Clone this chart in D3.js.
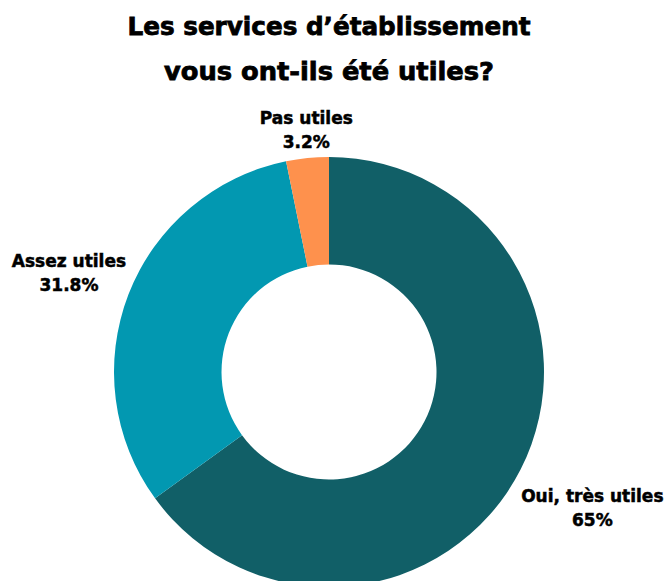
<!DOCTYPE html>
<html>
<head>
<meta charset="utf-8">
<script src="https://cdn.jsdelivr.net/npm/d3@7"></script>
<style>
  body { margin: 0; background: #fff; }
  svg { display: block; }
  text { font-family: "DejaVu Sans", "Noto Sans", sans-serif; font-weight: bold; fill: #000; stroke: #000; }
</style>
</head>
<body>
<svg id="chart"></svg>
<script>
var width = 667;
var height = 581;

// data
var titleLines = ["Les services d\u2019établissement", "vous ont-ils été utiles?"];
var categories = ["Oui, très utiles", "Assez utiles", "Pas utiles"];
var values = [65, 31.8, 3.2];
var valueLabels = ["65%", "31.8%", "3.2%"];
var colors = ["#115f67", "#0298b1", "#fe914d"];

var cx = 329, cy = 372;
var outerR = 215, innerR = 107.5;
var labelOffset = 5;

var svg = d3.select("#chart")
    .attr("width", width)
    .attr("height", height);

// title
svg.selectAll(".title")
   .data(titleLines)
   .enter().append("text")
   .attr("class", "title")
   .attr("x", cx)
   .attr("y", function(d, i) { return 35 + i * 45; })
   .attr("text-anchor", "middle")
   .attr("font-size", 25)
   .attr("stroke-width", 0.8)
   .attr("textLength", function(d, i) { return i === 0 ? 403 : 330; })
   .attr("lengthAdjust", "spacingAndGlyphs")
   .text(function(d) { return d; });

var pieData = d3.pie().sort(null).value(function(d) { return d; })(values);

var arc = d3.arc().innerRadius(innerR).outerRadius(outerR);

var g = svg.append("g").attr("transform", "translate(" + cx + "," + cy + ")");

g.selectAll(".slice")
 .data(pieData)
 .enter().append("path")
 .attr("class", "slice")
 .attr("d", arc)
 .attr("fill", function(d, i) { return colors[i]; });

// labels placed outside the ring, pushed out by their own box size
var labels = g.selectAll(".label")
  .data(pieData)
  .enter().append("text")
  .attr("class", "label")
  .attr("text-anchor", "middle")
  .attr("font-size", 17)
  .attr("stroke-width", 0.5);

labels.append("tspan")
  .attr("x", 0)
  .attr("dy", "-0.3em")
  .text(function(d, i) { return categories[i]; });

labels.append("tspan")
  .attr("x", 0)
  .attr("dy", "1.38em")
  .text(function(d, i) { return valueLabels[i]; });

labels.each(function(d) {
    var box = this.getBBox();
    var a = (d.startAngle + d.endAngle) / 2;
    var s = Math.sin(a), c = Math.cos(a);
    var extra = Math.abs(s) * box.width / 2 + Math.abs(c) * box.height / 2;
    var r = outerR + labelOffset + extra;
    var midY = box.y + box.height / 2;
    d3.select(this).attr("transform",
        "translate(" + (s * r + 2) + "," + (-c * r - midY + 3) + ")");
});
</script>
</body>
</html>
